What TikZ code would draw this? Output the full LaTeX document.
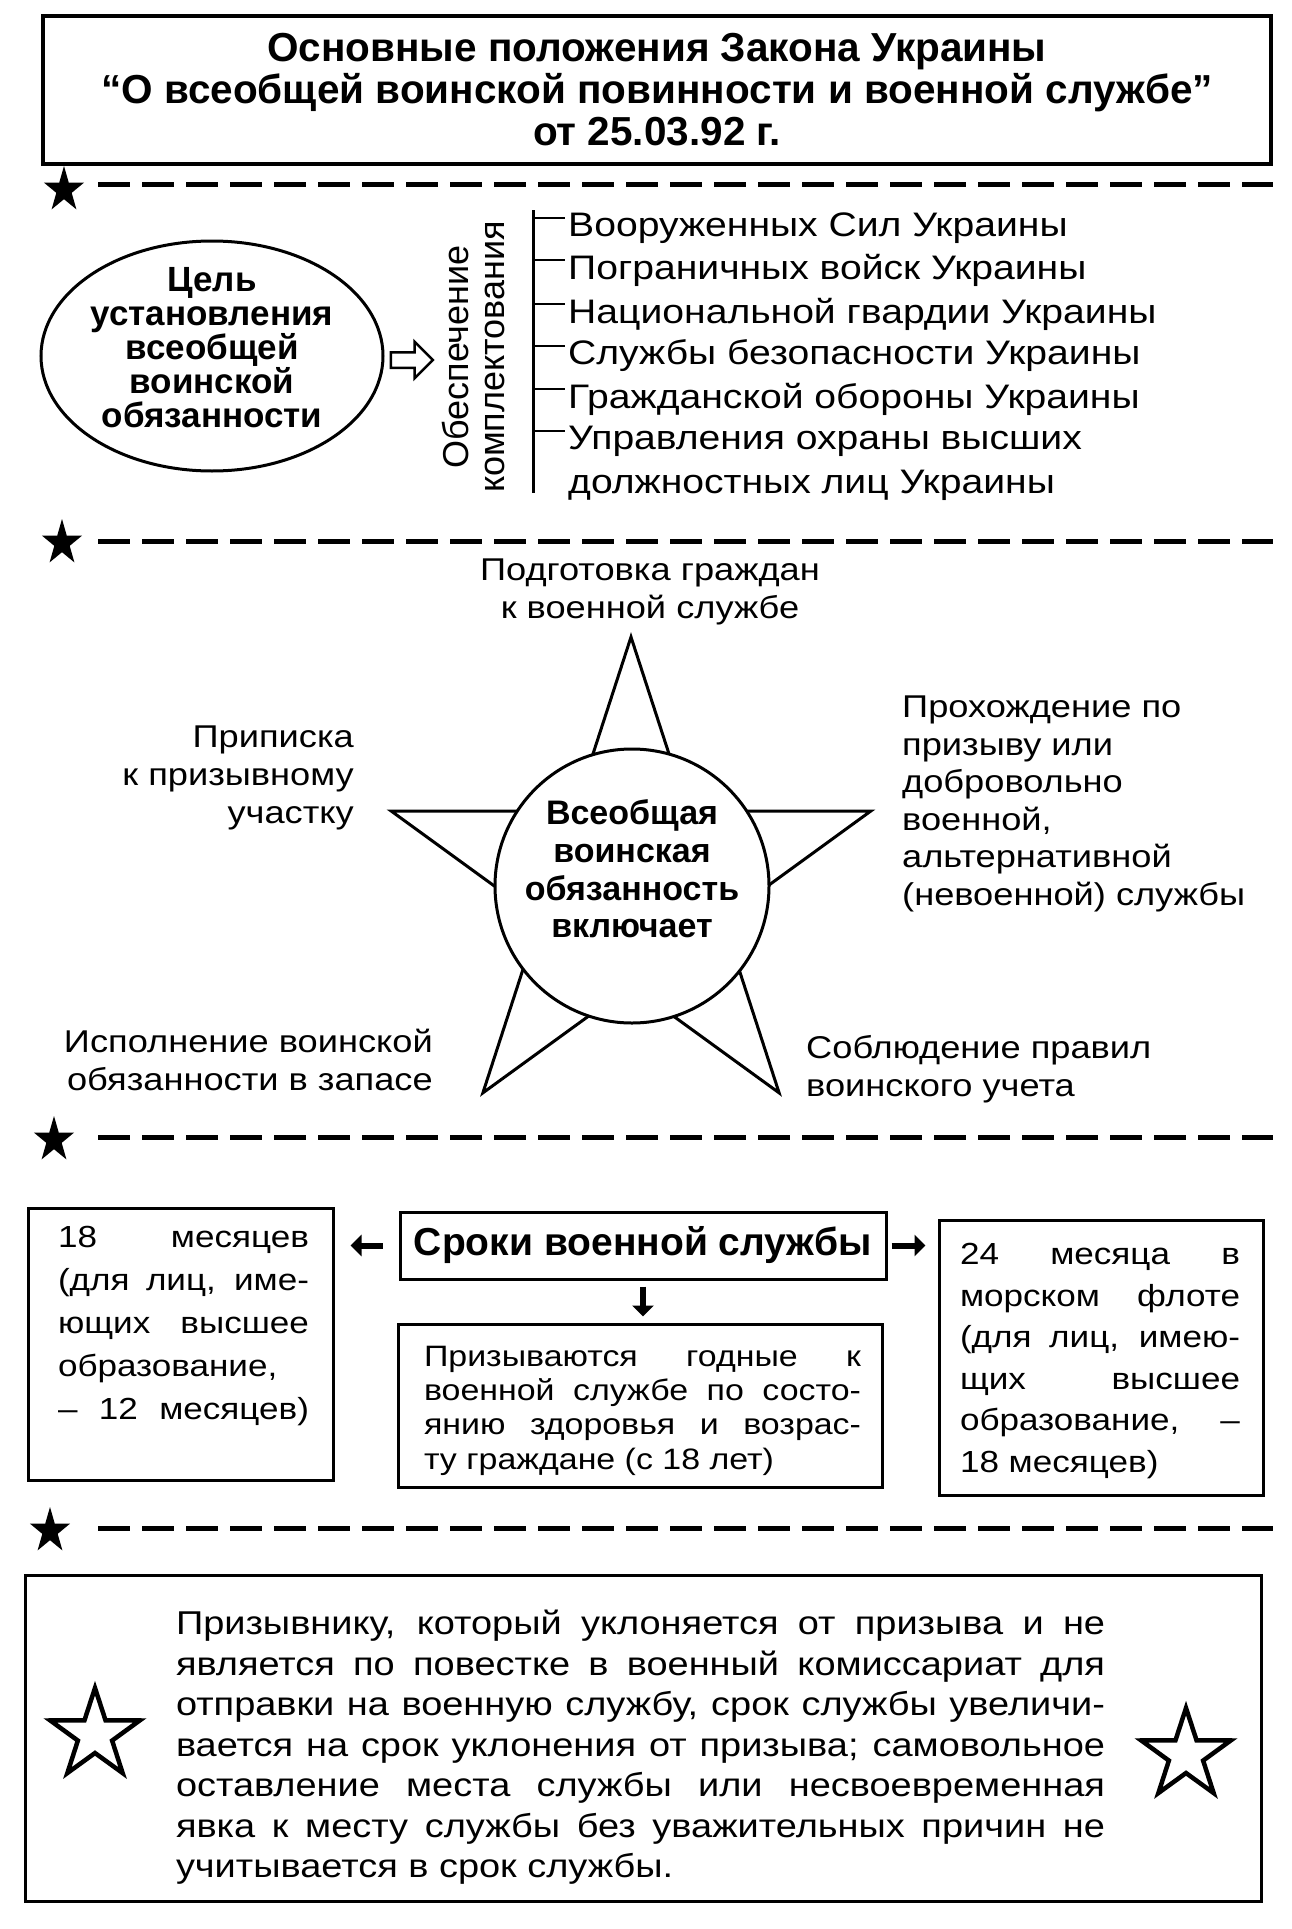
\documentclass[tikz,border=0pt]{standalone}
\usepackage{fontspec}
\setmainfont{Liberation Sans}
\newfontfamily\wide{Liberation Sans}[FakeStretch=1.15]
\usetikzlibrary{shapes.geometric,shapes.arrows,arrows.meta}
\newcommand{\fsz}[2]{\fontsize{#1}{#2}\selectfont}
\newcommand{\jl}[2]{\makebox[#1][s]{#2}}
\begin{document}
\begin{tikzpicture}[x=1pt,y=-1pt,
  box/.style={draw,line width=3pt,inner sep=0pt},
  sepline/.style={line width=5pt,dash pattern=on 32pt off 12pt},
  tick/.style={line width=2.5pt},
  bigarrow/.style={line width=6pt,-{Triangle[length=11pt,width=21pt]}},
  lbl/.style={inner sep=0pt,font=\wide\fsz{31.5}{37.6}},
  item/.style={anchor=west,inner sep=0pt,font=\wide\fsz{34}{43}},
  pics/starpoly/.style args={#1/#2}{code={\path[pic actions] (270:#1) -- (306:#2) -- (342:#1) -- (18:#2) -- (54:#1) -- (90:#2) -- (126:#1) -- (162:#2) -- (198:#1) -- (234:#2) -- cycle;}}
]
\fill[white] (0,0) rectangle (1292,1929);
\useasboundingbox (0,0) rectangle (1292,1929);

% title
\node[box, line width=3.5pt, minimum width=1228pt, minimum height=148pt, align=center,
      font=\bfseries\fsz{40.5}{42}] (title) at (657,90)
  {Основные положения Закона Украины\\“О всеобщей воинской повинности и военной службе”\\от 25.03.92 г.};

% separators
\coordinate (s1) at (64,190);  \coordinate (e1) at (1273,185);
\coordinate (s2) at (62,543);  \coordinate (e2) at (1273,541);
\coordinate (s3) at (54,1140); \coordinate (e3) at (1273,1137);
\coordinate (s4) at (50,1531); \coordinate (e4) at (1273,1528);
\foreach \s/\e in {s1/e1,s2/e2,s3/e3,s4/e4}{
  \pic[fill=black, xscale=0.88] at (\s) {starpoly=24/9.2};
  \draw[sepline] (\s -| 98,0) ++(0,0) coordinate (tmp) (tmp |- \e) -- (\e);
}

% section 2
\node[ellipse, draw, line width=3pt, minimum width=342pt, minimum height=230pt, inner sep=0pt] (goal) at (212,356) {};
\node[align=center, inner sep=0pt, font=\bfseries\fsz{35}{34}] (goaltext) at (212,348)
  {Цель\\установления\\всеобщей\\воинской\\обязанности};
\node[single arrow, draw, line width=2.5pt, minimum height=42pt, minimum width=34pt,
      single arrow head extend=10.5pt, inner sep=6.5pt] (garrow) at (408,360) {};
\node[rotate=90, align=center, inner sep=0pt, font=\fsz{36}{36}] (supply) at (473,357)
  {Обеспечение\\комплектования};
\coordinate (brtop) at (533,210);
\coordinate (brbot) at (533,493);
\draw[line width=3pt] (brtop) -- (brbot);
\node[item] (i1) at (568,228) {Вооруженных Сил Украины};
\node[item] (i2) at (568,270) {Пограничных войск Украины};
\node[item] (i3) at (568,314) {Национальной гвардии Украины};
\node[item] (i4) at (568,356) {Службы безопасности Украины};
\node[item] (i5) at (568,399) {Гражданской обороны Украины};
\node[item] (i6) at (568,441) {Управления охраны высших};
\node[item] (i7) at (568,485) {должностных лиц Украины};
\foreach \i in {i1,i2,i3,i4,i5,i6}{
  \draw[tick] (brtop |- \i.west) ++(0,-10) -- ++(32,0);
}

% section 3: star
\begin{scope}[shift={(631,889)}]
  \draw[line width=3pt, line join=miter] (270:252) -- (306:96.3) -- (342:252) -- (18:96.3) -- (54:252) -- (90:96.3) -- (126:252) -- (162:96.3) -- (198:252) -- (234:96.3) -- cycle;
\end{scope}
\node[circle, draw, fill=white, line width=3pt, minimum size=274pt, inner sep=0pt] (core) at (632,886) {};
\node[align=center, inner sep=0pt, font=\bfseries\fsz{34}{37.7}] (coretext) at (632,869)
  {Всеобщая\\воинская\\обязанность\\включает};
\node[lbl, align=center] (ltop) at (650,592) {Подготовка граждан\\к военной службе};
\node[lbl, align=right, anchor=east] (lleft) at (354,778) {Приписка\\к призывному\\участку};
\node[lbl, align=left, anchor=west] (lright) at (902,804)
  {Прохождение по\\призыву или\\добровольно\\военной,\\альтернативной\\(невоенной) службы};
\node[lbl, align=right, anchor=east] (lbl1) at (433,1060) {Исполнение воинской\\обязанности в запасе};
\node[lbl, align=left, anchor=west] (lbr) at (806,1069) {Соблюдение правил\\воинского учета};

% section 4: terms
\node[box, minimum width=486pt, minimum height=67pt, font=\bfseries\fsz{39}{40}] (terms) at (643,1245.5) {Сроки военной службы};
\node[box, minimum width=305pt, minimum height=272pt] (lbox) at (180.5,1344) {};
\node[align=left, inner sep=0pt, font=\wide\fsz{30.5}{42.8}] (ltext) at (183.5,1326)
  {\jl{251pt}{18 месяцев}\\\jl{251pt}{(для лиц, име-}\\\jl{251pt}{ющих высшее}\\\jl{251pt}{образование,}\\\jl{251pt}{– 12 месяцев)}};
\node[box, minimum width=324pt, minimum height=275pt] (rbox) at (1101,1357.5) {};
\node[align=left, inner sep=0pt, font=\wide\fsz{30.5}{41.6}] (rtext) at (1100,1361)
  {\jl{280pt}{24 месяца в}\\\jl{280pt}{морском флоте}\\\jl{280pt}{(для лиц, имею-}\\\jl{280pt}{щих высшее}\\\jl{280pt}{образование, –}\\18 месяцев)};
\node[box, minimum width=484pt, minimum height=163pt] (cbox) at (640,1405.5) {};
\node[align=left, inner sep=0pt, font=\wide\fsz{29.5}{34.4}] (ctext) at (642.5,1410.5)
  {\jl{437pt}{Призываются годные к}\\\jl{437pt}{военной службе по состо-}\\\jl{437pt}{янию здоровья и возрас-}\\ту граждане (с 18 лет)};
\draw[bigarrow, shorten <=16pt, shorten >=16pt] (terms.west) -- (terms.west -| lbox.east);
\draw[bigarrow, shorten <=4pt, shorten >=12pt] (terms.east) -- (terms.east -| rbox.west);
\draw[bigarrow, shorten <=6pt, shorten >=6pt] (terms.south) -- (terms.south |- cbox.north);

% section 5
\node[box, minimum width=1236pt, minimum height=326pt] (note) at (643,1738) {};
\node[align=left, inner sep=0pt, font=\wide\fsz{33}{40.5}] (notetext) at (640.5,1747.5)
  {\jl{929pt}{Призывнику, который уклоняется от призыва и не}\\
   \jl{929pt}{является по повестке в военный комиссариат для}\\
   \jl{929pt}{отправки на военную службу, срок службы увеличи-}\\
   \jl{929pt}{вается на срок уклонения от призыва; самовольное}\\
   \jl{929pt}{оставление места службы или несвоевременная}\\
   \jl{929pt}{явка к месту службы без уважительных причин не}\\
   учитывается в срок службы.};
\coordinate (hs1) at (95,1735);
\coordinate (hs2) at (1186,1755);
\pic[draw, line width=4.5pt, line join=miter] at (hs1) {starpoly=47/18};
\pic[draw, line width=4.5pt, line join=miter] at (hs2) {starpoly=47/18};
\end{tikzpicture}
\end{document}
